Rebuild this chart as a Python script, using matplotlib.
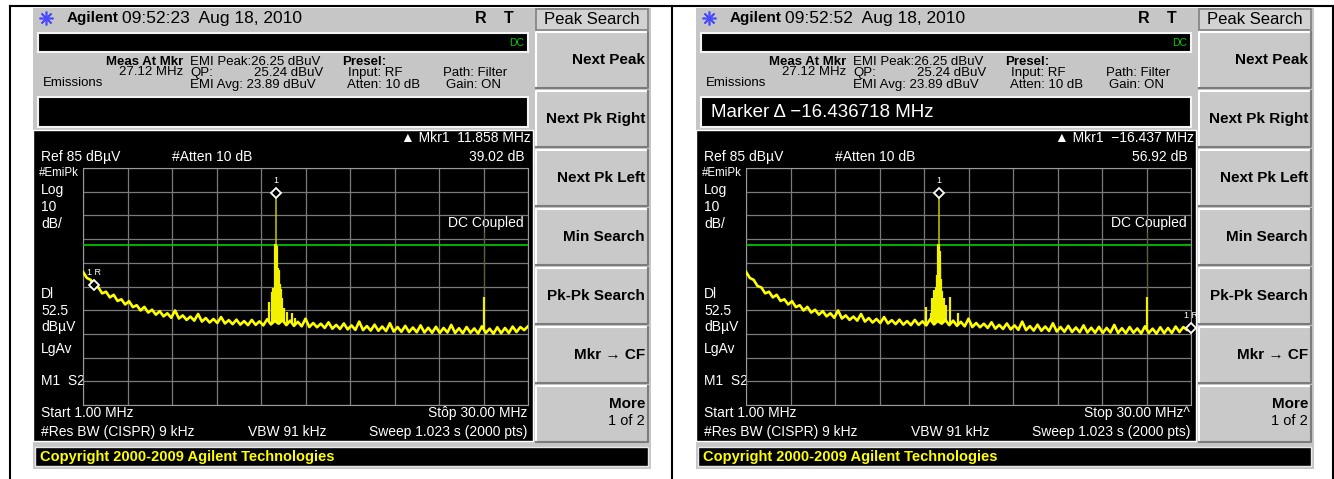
import numpy as np
import matplotlib
matplotlib.use("Agg")
import matplotlib.pyplot as plt
from matplotlib.patches import Rectangle

plt.rcParams['font.family'] = ['Liberation Sans', 'DejaVu Sans']

W, H = 1334, 479

# sweep settings shown on the screen
start_mhz = 1.0
stop_mhz = 30.0
ref_dbuv = 85
db_per_div = 10
display_line_dbuv = 52.5

# noise floor, one value every 0.25 MHz (1 .. 30 MHz)
floor_dbuv = [
    41.2, 38.6, 37.8, 35.2, 34.6, 32.1, 32.8, 30.4, 31.5, 28.9,
    29.6, 27.4, 28.8, 26.3, 27.1, 24.9, 26.4, 24.0, 25.2, 23.1,
    24.6, 22.4, 23.7, 21.8, 24.9, 21.5, 22.8, 20.9, 22.3, 20.6,
    23.4, 20.2, 21.7, 19.8, 21.3, 19.6, 22.1, 19.4, 20.8, 19.1,
    21.0, 18.9, 20.4, 18.7, 20.9, 18.8, 20.3, 18.6, 21.2, 19.0,
    20.5, 19.3, 20.8, 18.7, 20.6, 18.4, 20.1, 18.2, 21.4, 17.9,
    19.6, 17.8, 19.3, 17.5, 19.9, 17.2, 18.8, 17.1, 19.4, 16.9,
    18.6, 16.7, 20.2, 16.6, 18.3, 16.4, 18.9, 16.3, 18.1, 16.2,
    19.5, 16.0, 17.9, 15.9, 18.4, 15.8, 17.7, 15.7, 18.6, 15.6,
    17.6, 15.5, 18.0, 15.4, 17.5, 15.6, 18.8, 15.4, 17.4, 15.3,
    17.9, 15.5, 17.3, 15.2, 18.2, 15.4, 17.2, 15.1, 17.8, 15.3,
    17.5, 15.4, 18.1, 15.8, 17.9, 16.6, 18.2,
]

# emission lines around 13.56 MHz and at 27.12 MHz
left_spike_mhz = [13.14, 13.30, 13.40, 13.47, 13.52, 13.58, 13.62, 13.66, 13.71,
                  13.76, 13.80, 13.85, 13.90, 13.95, 14.10, 14.27, 14.60, 14.82, 27.12]
left_spike_dbuv = [28.5, 32.8, 34.4, 30.0, 53.0, 53.0, 52.0, 43.0, 43.0,
                   42.0, 36.5, 36.0, 34.0, 30.0, 26.0, 24.4, 24.0, 21.7, 30.6]
right_spike_mhz = [12.76, 13.05, 13.15, 13.25, 13.32, 13.40, 13.47, 13.52, 13.58,
                   13.62, 13.66, 13.72, 13.80, 13.90, 14.02, 14.30, 14.80, 27.12]
right_spike_dbuv = [26.5, 24.0, 30.0, 33.5, 32.0, 35.0, 40.0, 53.0, 53.0,
                    50.0, 43.4, 38.0, 33.0, 30.0, 27.0, 30.7, 24.0, 30.6]
ghost_mhz = 27.12
ghost_dbuv = 58.0

softkeys = ["Next Peak", "Next Pk Right", "Next Pk Left", "Min Search",
            "Pk-Pk Search", "Mkr \u2192 CF"]

screens = [
    dict(dx=0, clock="09:52:23", mkr_freq="11.858 MHz", mkr_amp="39.02 dB",
         message="", stop="St\u00f4p 30.00 MHz",
         spike_mhz=left_spike_mhz, spike_dbuv=left_spike_dbuv,
         mkr1=(13.56, 74.5), mkr_ref=(1.72, 35.5)),
    dict(dx=663, clock="09:52:52", mkr_freq="\u221216.437 MHz", mkr_amp="56.92 dB",
         message="Marker \u0394 \u221216.436718 MHz", stop="Stop 30.00 MHz^",
         spike_mhz=right_spike_mhz, spike_dbuv=right_spike_dbuv,
         mkr1=(13.56, 74.5), mkr_ref=(30.0, 17.6)),
]

GRAY = '#c6c6c6'
fig = plt.figure(figsize=(W / 100, H / 100), dpi=100)
fig.patch.set_facecolor('white')
ax = fig.add_axes([0, 0, 1, 1])
ax.set_xlim(0, W)
ax.set_ylim(H, 0)
ax.axis('off')

# page frame lines
ax.plot([10, W], [6, 6], color='black', lw=1.5)
for xv in (10, 672, 1333):
    ax.plot([xv, xv], [6, H], color='black', lw=1.5)

freq = np.linspace(start_mhz, stop_mhz, len(floor_dbuv))
floor = np.array(floor_dbuv)


def rect(x0, y0, x1, y1, **kw):
    ax.add_patch(Rectangle((x0, y0), x1 - x0, y1 - y0, **kw))


def draw_screen(s):
    dx = s['dx']

    def txt(x, y, t, **kw):
        kw.setdefault('color', 'black')
        kw.setdefault('fontsize', 9.5)
        ax.text(dx + x, y, t, va='center', **kw)

    # body
    rect(dx + 33, 8, dx + 651, 469, facecolor=GRAY, edgecolor='none')

    # title line
    ax.plot(dx + 46, 18, marker=(8, 2, 0), ms=10, color='#4a4aff', mew=1.2)
    txt(67, 18, "Agilent", fontsize=11, fontweight='bold')
    txt(122, 18, s['clock'] + "  Aug 18, 2010", fontsize=12.5)
    txt(481, 18, "R", fontsize=11.5, fontweight='bold', ha='center')
    txt(509, 18, "T", fontsize=11.5, fontweight='bold', ha='center')

    # status bar
    rect(dx + 38, 33, dx + 528, 52, facecolor='black', edgecolor='#f4f4f4', lw=1.5)
    txt(524, 43, "DC", color='#00c800', fontsize=7.5, ha='right')

    # emissions readout
    txt(183, 62, "Meas At Mkr", fontweight='bold', ha='right')
    txt(183, 72, "27.12 MHz", ha='right')
    txt(43, 83, "Emissions")
    txt(190, 62, "EMI Peak:26.25 dBuV")
    txt(190, 73, "QP:")
    txt(323, 73, "25.24 dBuV", ha='right')
    txt(190, 85, "EMI Avg: 23.89 dBuV")
    txt(342, 62, "Presel:", fontweight='bold')
    txt(348, 73, "Input: RF")
    txt(347, 85, "Atten: 10 dB")
    txt(443, 73, "Path: Filter")
    txt(446, 85, "Gain: ON")

    # active function box
    rect(dx + 38, 97, dx + 528, 127, facecolor='black', edgecolor='#f4f4f4', lw=1.5)
    txt(48, 112, s['message'], color='white', fontsize=13.5)

    # display area
    rect(dx + 33, 130, dx + 533, 441, facecolor='black', edgecolor='white', lw=1)
    txt(531, 138, "\u25b2 Mkr1  " + s['mkr_freq'], color='white', fontsize=10, ha='right')
    txt(41, 157, "Ref 85 dB\u00b5V", color='white', fontsize=10)
    txt(172, 157, "#Atten 10 dB", color='white', fontsize=10)
    txt(525, 157, s['mkr_amp'], color='white', fontsize=10, ha='right')
    txt(39, 173, "#EmiPk", color='white', fontsize=8.3)
    for y, t in [(190, "Log"), (207, "10"), (224, "dB/"),
                 (294, "Dl"), (311, "52.5"), (327, "dB\u00b5V"), (349, "LgAv"),
                 (381, "M1  S2")]:
        txt(41, y, t, color='white', fontsize=10)
    txt(524, 223, "DC Coupled", color='white', fontsize=10, ha='right')
    txt(41, 413, "Start 1.00 MHz", color='white', fontsize=10)
    txt(527, 413, s['stop'], color='white', fontsize=10, ha='right')
    txt(41, 432, "#Res BW (CISPR) 9 kHz", color='white', fontsize=10)
    txt(248, 432, "VBW 91 kHz", color='white', fontsize=10)
    txt(527, 432, "Sweep 1.023 s (2000 pts)", color='white', fontsize=10, ha='right')

    # copyright strip
    rect(dx + 35, 447, dx + 648, 466, facecolor='black', edgecolor='#e8e8e8', lw=1)
    txt(40, 456.5, "Copyright 2000-2009 Agilent Technologies", color='#ffff00',
        fontsize=10.5, fontweight='bold')

    # softkeys
    rect(dx + 536, 9, dx + 648, 30, facecolor='#d2d2d2', edgecolor='#808080', lw=1.2)
    txt(592, 19, "Peak Search", fontsize=12, ha='center')
    tops = [32, 91, 150, 209, 268, 327, 386]
    for i, top in enumerate(tops):
        bot = top + 56
        rect(dx + 536, top, dx + 648, bot, facecolor='#c9c9c9', edgecolor='none')
        ax.plot([dx + 536, dx + 536, dx + 648], [bot, top, top], color='white', lw=1.5)
        ax.plot([dx + 536, dx + 648, dx + 648], [bot, bot, top], color='#7c7c7c', lw=1.5)
        if i < len(softkeys):
            txt(645, top + 28, softkeys[i], fontsize=11, fontweight='bold', ha='right')
    txt(645, 404, "More", fontsize=11, fontweight='bold', ha='right')
    txt(645, 421, "1 of 2", fontsize=10.5, ha='right')

    # graticule
    g = fig.add_axes([(dx + 83) / W, 1 - 405 / H, 445 / W, 237 / H])
    g.set_facecolor('none')
    g.set_xlim(start_mhz, stop_mhz)
    g.set_ylim(ref_dbuv - 10 * db_per_div, ref_dbuv)
    g.set_xticks(np.linspace(start_mhz, stop_mhz, 11))
    g.set_yticks(np.arange(ref_dbuv - 10 * db_per_div, ref_dbuv + 1, db_per_div))
    g.grid(True, color='#7a7a7a', lw=0.9)
    g.tick_params(length=0, labelbottom=False, labelleft=False)
    for sp in g.spines.values():
        sp.set_color('#9a9a9a')
    g.axhline(display_line_dbuv, color='#00d000', lw=1.2, zorder=3)

    g.vlines(ghost_mhz, 30, ghost_dbuv, color='#5f5f3a', lw=0.8, zorder=3)
    f1, l1 = s['mkr1']
    g.vlines(f1, np.interp(f1, freq, floor), l1, color='#c8c800', lw=1.1, zorder=4)
    base = np.interp(s['spike_mhz'], freq, floor)
    g.vlines(s['spike_mhz'], base, s['spike_dbuv'], color='#f2f200', lw=1.6, zorder=4)
    g.plot(freq, floor, color='#ffff00', lw=1.9, zorder=4)

    for (f, lvl), lab in [(s['mkr1'], "1"), (s['mkr_ref'], "1 R")]:
        g.plot(f, lvl, marker='D', ms=5.5, mfc='black', mec='white', mew=1.3,
               zorder=6, clip_on=False)
        g.annotate(lab, (f, lvl), xytext=(0, 9), textcoords='offset points',
                   ha='center', va='center', color='white', fontsize=6.5,
                   annotation_clip=False)


for scr in screens:
    draw_screen(scr)

fig.savefig("out.png", dpi=100, facecolor='white')
